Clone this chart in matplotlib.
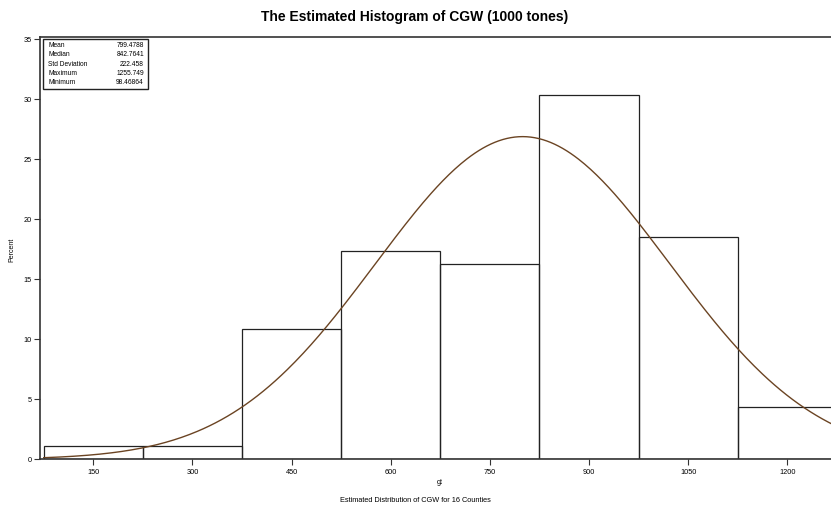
import numpy as np
import matplotlib.pyplot as plt
from matplotlib.patches import Rectangle

# histogram data (percent per 150-wide bin)
bin_mids = [150, 300, 450, 600, 750, 900, 1050, 1200]
percent = [1.13, 1.13, 10.9, 17.4, 16.3, 30.4, 18.5, 4.38]
bin_width = 150

stat_names = ["Mean", "Median", "Std Deviation", "Maximum", "Minimum"]
stat_values = ["799.4788", "842.7641", "222.458", "1255.749", "98.46864"]
mean_val = 799.4788
sd_val = 222.458

W, H = 831, 508
plt.rcParams['font.family'] = ['Liberation Sans', 'DejaVu Sans']

fig = plt.figure(figsize=(W / 100, H / 100), dpi=100)
ax = fig.add_axes([40 / W, 1 - 459.3 / H, 1 - 40 / W + 0.01, (459.3 - 36.7) / H])

ax.bar(bin_mids, percent, width=bin_width, fill=False, edgecolor="#222222", linewidth=0.9)

# fitted normal curve from the summary stats
xs = np.linspace(75, 1280, 400)
ys = 100 * bin_width * np.exp(-0.5 * ((xs - mean_val) / sd_val) ** 2) / (sd_val * np.sqrt(2 * np.pi))
ax.plot(xs, ys, color="#6b4423", linewidth=1.0)

ax.set_xlim(69.4, 1266.1 + 0.01 * W / 0.66095)
ax.set_ylim(0, 35.23)
ax.set_xticks(bin_mids)
ax.set_yticks(range(0, 36, 5))
ax.tick_params(labelsize=5.3, length=4, width=0.8, color="#333333", pad=2)
ax.tick_params(axis="x", pad=3)
for s in ["left", "bottom", "top"]:
    ax.spines[s].set_linewidth(1.2)
    ax.spines[s].set_color("#333333")
ax.spines["right"].set_visible(False)

fig.text(12 / W, 1 - 250 / H, "Percent", fontsize=5, rotation=90, ha="center", va="center")
fig.text(440 / W, 1 - 482 / H, "gt", fontsize=5.3, ha="center", va="center")
fig.text(415 / W, 1 - 500 / H, "Estimated Distribution of CGW for 16 Counties",
         fontsize=5.3, ha="center", va="center")
fig.text(415 / W, 1 - 17 / H, "The Estimated Histogram of CGW (1000 tones)",
         fontsize=10, fontweight="bold", ha="center", va="center")

# stats box
fig.patches.append(Rectangle((43.3 / W, 1 - 89 / H), (148.3 - 43.3) / W, 50 / H,
                             transform=fig.transFigure, fill=False,
                             edgecolor="#222222", linewidth=1.0))
row_y = [45.7, 55, 64.3, 73.7, 83]
for name, val, y in zip(stat_names, stat_values, row_y):
    fig.text(48.3 / W, 1 - y / H, name, fontsize=4.8, ha="left", va="center")
    fig.text(144 / W, 1 - y / H, val, fontsize=4.8, ha="right", va="center")

fig.savefig("out.png", dpi=100)
